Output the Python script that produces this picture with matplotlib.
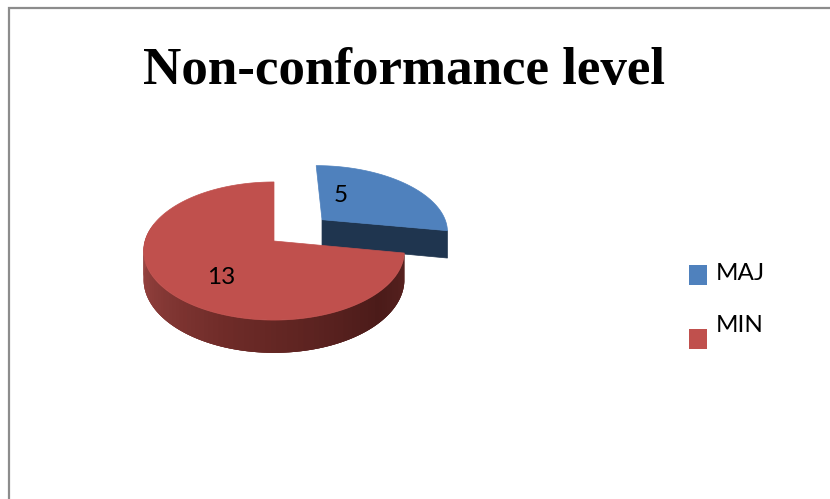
import numpy as np
import matplotlib
matplotlib.use("Agg")
import matplotlib.pyplot as plt
from matplotlib.colors import LinearSegmentedColormap
from matplotlib.patches import Polygon, Rectangle

# --------------------------------------------------
# DATA
# --------------------------------------------------
TITLE = "Non-conformance level"
CATEGORIES = ["MAJ", "MIN"]
VALUES = [5, 13]

# --------------------------------------------------
# STYLE
# --------------------------------------------------
COLORS = ["#4F81BD", "#C0504D"]
BLUE_CUT = "#1F354F"
WALL_CMAP = LinearSegmentedColormap.from_list(
    "wall", [(0.0, "#5A2321"), (0.2, "#4B1B19"), (0.55, "#6E2B28"), (1.0, "#A34A47")]
)
FRAME = "#8C8C8C"

# fake 3D: matplotlib has no perspective pie, so the unit disc is projected
CX, CY = 274, 241
RX, RY = 129, 67.6
PERSP = 0.145
DEPTH = 28
EXPLODE_U, EXPLODE_V = 0.39, 0.33


def project(u, v, down=0.0):
    w = 1 + PERSP * v
    return np.column_stack([CX + RX * u / w, CY - RY * v / w + down * DEPTH / w])


def wedge_top(t0, t1, du=0.0, dv=0.0):
    t = np.radians(np.linspace(t0, t1, 200))
    u = np.r_[0, np.sin(t)] + du
    v = np.r_[0, np.cos(t)] + dv
    return project(u, v)


fig = plt.figure(figsize=(8.30, 4.99), dpi=100)
ax = fig.add_axes([0, 0, 1, 1])
ax.set_xlim(0, 830)
ax.set_ylim(499, 0)
ax.axis("off")

# outer frame, only the left and top edges are in the crop
ax.plot([9, 9, 830], [499, 7.5, 7.5], color=FRAME, lw=1.6, solid_joinstyle="miter")

angles = np.cumsum([0] + VALUES) / sum(VALUES) * 360

# blue slice, pulled out
a0, a1 = angles[0], angles[1]
s, c = np.sin(np.radians(a1)), np.cos(np.radians(a1))
cut = np.vstack([
    project(np.array([EXPLODE_U, EXPLODE_U + s]), np.array([EXPLODE_V, EXPLODE_V + c])),
    project(np.array([EXPLODE_U + s, EXPLODE_U]), np.array([EXPLODE_V + c, EXPLODE_V]), down=1),
])
ax.add_patch(Polygon(cut, closed=True, fc=BLUE_CUT, ec=BLUE_CUT, lw=0.5))
ax.add_patch(Polygon(wedge_top(a0, a1, EXPLODE_U, EXPLODE_V), closed=True,
                     fc=COLORS[0], ec=COLORS[0], lw=0.5))

# red slice, outer wall as strips, each one overlaps the next so no seams show
b0, b1 = angles[1], angles[2]
wall_end = min(b1, 285)
steps = np.linspace(b0, wall_end, 90)
for i in range(len(steps) - 1):
    t = np.radians(np.linspace(steps[max(i - 2, 0)], steps[i + 1], 8))
    u, v = np.sin(t), np.cos(t)
    strip = np.vstack([project(u, v), project(u[::-1], v[::-1], down=1)])
    col = WALL_CMAP(i / (len(steps) - 2))
    ax.add_patch(Polygon(strip, closed=True, fc=col, ec="none"))
ax.add_patch(Polygon(wedge_top(b0, b1), closed=True, fc=COLORS[1], ec=COLORS[1], lw=0.5))

# title and value labels
ax.text(404, 84, TITLE, family="Liberation Serif", weight="bold", fontsize=38.2,
        ha="center", va="baseline", color="black")
ax.text(341, 195, str(VALUES[0]), family="Lato", fontsize=17.5, ha="center", va="center")
ax.text(221, 277, str(VALUES[1]), family="Lato", fontsize=17.5, ha="center", va="center")

# legend is placed by hand, the swatches and labels do not line up in the original
legend_swatch_y = [265, 329]
legend_text_y = [274, 325]
for name, col, sy, ty in zip(CATEGORIES, COLORS, legend_swatch_y, legend_text_y):
    ax.add_patch(Rectangle((689, sy), 18, 20, fc=col, ec="none"))
    ax.text(716, ty, name, family="Lato", fontsize=17.5, ha="left", va="center")

fig.savefig("out.png", dpi=100)
